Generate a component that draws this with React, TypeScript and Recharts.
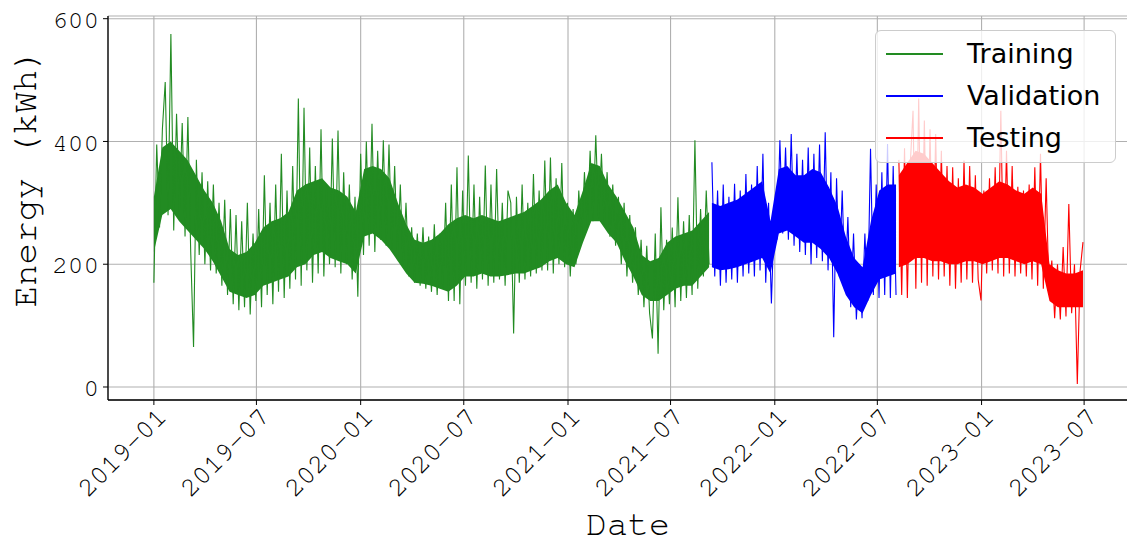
import React from "react";
import { ComposedChart, Line, Area, XAxis, YAxis, CartesianGrid, Legend, Label } from "recharts";

// readings every 5 days from 2019-01-01 (kWh):
// alternating spikes/dips of the hourly trace
const startDate = "2019-01-01";
const stepDays = 5;

const training = [
  170, 395, 260, 420, 497, 280, 575, 255, 445, 285,
  430, 245, 440, 220, 65, 370, 215, 350, 200, 335,
  190, 330, 185, 300, 165, 305, 150, 290, 135, 280,
  125, 270, 130, 300, 118, 250, 140, 290, 130, 345,
  150, 300, 135, 330, 155, 380, 145, 320, 160, 360,
  175, 470, 165, 455, 190, 390, 170, 360, 185, 420,
  180, 330, 200, 405, 195, 418, 185, 350, 200, 330,
  175, 310, 147, 380, 215, 400, 230, 429, 220, 385,
  240, 402, 230, 395, 225, 360, 210, 330, 195, 300,
  180, 260, 170, 250, 165, 260, 160, 245, 155, 265,
  150, 250, 160, 300, 140, 330, 140, 358, 135, 320,
  165, 377, 170, 330, 160, 310, 175, 361, 165, 330,
  170, 355, 175, 300, 165, 320, 300, 87, 310, 170,
  330, 175, 300, 180, 347, 185, 320, 190, 369, 190,
  374, 185, 340, 200, 365, 195, 300, 180, 290, 200,
  320, 240, 350, 260, 385, 270, 410, 275, 380, 265,
  350, 245, 330, 230, 310, 200, 300, 180, 280, 170,
  260, 150, 240, 130, 230, 120, 79, 250, 54, 293,
  125, 240, 135, 260, 130, 309, 140, 270, 145, 280,
  150, 402, 160, 290, 180, 320, 200,
];

const validation = [
  366, 180, 320, 165, 330, 170, 310, 175, 331, 170,
  320, 180, 347, 185, 330, 180, 360, 190, 380, 170,
  300, 136, 280, 240, 402, 250, 390, 240, 412, 230,
  380, 220, 370, 215, 390, 200, 380, 210, 395, 205,
  415, 190, 350, 81, 340, 180, 320, 160, 277, 130,
  250, 110, 200, 112, 250, 140, 388, 150, 330, 145,
  350, 150, 396, 145, 360, 150,
];

const testing = [
  370, 150, 389, 145, 360,
  450, 160, 470, 170, 434, 165,
  420, 180, 412, 175, 385, 180, 360, 165, 358, 160,
  340, 170, 369, 175, 360, 170, 345, 175, 141, 320,
  185, 340, 190, 358, 185, 450, 180, 385, 185, 360,
  180, 326, 185, 320, 180, 330, 175, 358, 165, 380,
  160, 340, 150, 206, 112, 200, 110, 228, 115, 298,
  120, 200, 5, 190, 236,
];

// densely filled core of each trace, about one reading every two weeks
const trainingCoreLow = [
  220, 280, 290, 270, 255, 240, 225, 205, 180, 155, 150, 145,
  150, 165, 170, 175, 180, 195, 200, 215, 220, 210, 205, 200,
  185, 245, 250, 240, 225, 205, 185, 170, 168, 165, 160, 155,
  165, 180, 180, 185, 180, 180, 182, 185, 185, 190, 195, 205,
  210, 200, 195, 235, 270, 270, 250, 235, 205, 180, 150, 140,
  140, 150, 160, 165, 165, 180, 195,
];
const trainingCoreHigh = [
  310, 390, 400, 385, 370, 345, 320, 300, 270, 225, 215, 220,
  235, 260, 270, 275, 285, 320, 330, 335, 340, 325, 320, 310,
  285, 355, 360, 355, 340, 300, 265, 240, 235, 240, 250, 265,
  275, 280, 275, 280, 275, 270, 275, 280, 285, 295, 305, 320,
  330, 300, 280, 320, 365, 360, 330, 310, 285, 260, 215, 205,
  210, 235, 245, 250, 255, 270, 285,
];
const validationCoreLow = [
  195, 190, 192, 195, 200, 205, 210, 185, 250, 255, 245, 235,
  235, 225, 210, 185, 150, 130, 120, 150, 175, 180, 185,
];
const validationCoreHigh = [
  300, 295, 300, 305, 315, 325, 335, 270, 355, 360, 345, 345,
  355, 350, 325, 295, 245, 210, 195, 270, 320, 330, 330,
];
const testingCoreLow = [
  195, 200, 210, 210, 205, 205, 200, 200, 205, 205, 200, 205,
  210, 210, 205, 200, 205, 200, 140, 130, 130, 130, 130,
];
const testingCoreHigh = [
  345, 365, 385, 380, 365, 350, 335, 325, 330, 325, 315, 325,
  335, 330, 320, 315, 325, 315, 200, 190, 185, 185, 190,
];

const tickLabels = [
  "2019-01", "2019-07", "2020-01", "2020-07", "2021-01",
  "2021-07", "2022-01", "2022-07", "2023-01", "2023-07",
];
const yTicks = [0, 200, 400, 600];

const seriesKeys = ["train", "val", "test"];
const seriesNames = ["Training", "Validation", "Testing"];
const seriesColors = ["#228b22", "#0000ff", "#ff0000"];

const MS_DAY = 86400000;
const dayOffset = (iso: string) => (Date.parse(iso) - Date.parse(startDate)) / MS_DAY;

const traces = [training, validation, testing];
const rows: Record<string, number>[] = [];
const spans: [number, number][] = [];
let k = 0;
traces.forEach((values, s) => {
  const first = k * stepDays;
  values.forEach((v) => {
    rows.push({ day: k * stepDays, [seriesKeys[s]]: v });
    k++;
  });
  spans.push([first, (k - 1) * stepDays]);
});

const coreLows = [trainingCoreLow, validationCoreLow, testingCoreLow];
const coreHighs = [trainingCoreHigh, validationCoreHigh, testingCoreHigh];
const cores = coreLows.map((lows, s) => {
  const [a, b] = spans[s];
  return lows.map((lo, i) => ({
    day: a + ((b - a) * i) / (lows.length - 1),
    band: [lo, coreHighs[s][i]],
  }));
});

const xTicks = tickLabels.map((t) => dayOffset(t + "-01"));
const labelByDay: Record<number, string> = {};
xTicks.forEach((d, i) => (labelByDay[d] = tickLabels[i]));

const mono =
  "'Nimbus Mono PS', 'Nimbus Mono L', FreeMono, 'Courier 10 Pitch', 'Liberation Mono', monospace";

const DateTick = (props: any) => {
  const { x, y, payload } = props;
  const ax = x + 14;
  const ay = y + 11;
  return (
    <text
      x={ax}
      y={ay}
      transform={`rotate(-45 ${ax} ${ay})`}
      textAnchor="end"
      fontFamily={mono}
      fontSize={27}
      fill="#000"
    >
      {labelByDay[payload.value]}
    </text>
  );
};

const LegendBox = () => (
  <div
    style={{
      width: 241,
      height: 133,
      boxSizing: "border-box",
      border: "1px solid #cccccc",
      borderRadius: 6,
      background: "rgba(255,255,255,0.8)",
      paddingTop: 2,
    }}
  >
    {seriesNames.map((name, i) => (
      <div key={name} style={{ height: 42, display: "flex", alignItems: "center" }}>
        <div style={{ marginLeft: 10, width: 57, height: 1.5, background: seriesColors[i] }} />
        <span
          style={{
            marginLeft: 24,
            fontFamily: "'DejaVu Sans', sans-serif",
            fontSize: 27,
            color: "#000",
            lineHeight: "42px",
          }}
        >
          {name}
        </span>
      </div>
    ))}
  </div>
);

export default function App() {
  return (
    <div
      style={{
        position: "absolute",
        left: 0,
        top: 0,
        width: 1127,
        height: 545,
        overflow: "hidden",
        background: "#fff",
      }}
    >
      <ComposedChart width={1140} height={545} data={rows} margin={{ top: 16, right: 10, bottom: 0, left: 0 }}>
        <CartesianGrid stroke="#b0b0b0" strokeWidth={1.1} />
        <XAxis
          xAxisId="top"
          orientation="top"
          dataKey="day"
          type="number"
          domain={[-81, 1723]}
          height={0}
          tick={false}
          tickLine={false}
          axisLine={{ stroke: "#000", strokeWidth: 1.3 }}
        />
        <XAxis
          dataKey="day"
          type="number"
          domain={[-81, 1723]}
          ticks={xTicks}
          interval={0}
          height={145}
          tickSize={5}
          tickMargin={2}
          tick={<DateTick />}
          tickLine={{ stroke: "#000" }}
          axisLine={{ stroke: "#000", strokeWidth: 1.3 }}
        >
          <Label
            content={() => (
              <text x={628} y={535} textAnchor="middle" fontFamily={mono} fontSize={35} fill="#000">
                Date
              </text>
            )}
          />
        </XAxis>
        <YAxis
          type="number"
          domain={[-21.2, 604.4]}
          ticks={yTicks}
          allowDataOverflow
          width={108}
          tickSize={5}
          tickMargin={4}
          tick={{ fontFamily: mono, fontSize: 26, fill: "#000" }}
          tickLine={{ stroke: "#000" }}
          axisLine={{ stroke: "#000", strokeWidth: 1.3 }}
        >
          <Label
            content={() => (
              <text
                x={36}
                y={178}
                transform="rotate(-90 36 178)"
                textAnchor="middle"
                fontFamily={mono}
                fontSize={36}
                fill="#000"
              >
                Energy (kWh)
              </text>
            )}
          />
        </YAxis>
        {seriesKeys.map((key, i) => (
          <Area
            key={key + "-core"}
            data={cores[i]}
            dataKey="band"
            type="linear"
            stroke="none"
            fill={seriesColors[i]}
            fillOpacity={1}
            legendType="none"
            isAnimationActive={false}
          />
        ))}
        {seriesKeys.map((key, i) => (
          <Line
            key={key}
            dataKey={key}
            name={seriesNames[i]}
            type="linear"
            stroke={seriesColors[i]}
            strokeWidth={1.1}
            dot={false}
            activeDot={false}
            isAnimationActive={false}
          />
        ))}
        <Legend
          layout="vertical"
          align="center"
          verticalAlign="middle"
          content={<LegendBox />}
          wrapperStyle={{ left: 875, top: 30, width: 241, height: 133 }}
        />
      </ComposedChart>
    </div>
  );
}
